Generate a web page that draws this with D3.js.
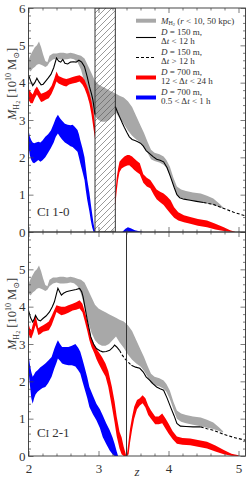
<!DOCTYPE html>
<html><head><meta charset="utf-8">
<script src="https://cdn.jsdelivr.net/npm/d3@7"></script>
<style>
html,body{margin:0;padding:0;background:#fff;}
svg{display:block;font-family:"Liberation Serif","DejaVu Serif",serif;}
</style></head><body>
<svg id="c" width="249" height="479"></svg>
<script>
// ---------------- DATA ----------------
const xDomain = [2, 5.1];
const yDomain = [0, 6];
const xMajorTicks = [2, 3, 4, 5];
const yTicksTop = [0, 1, 2, 3, 4, 5, 6];
const yTicksBottom = [0, 1, 2, 3, 4, 5];
const panelLabels = [["C", "I", " 1-0"], ["C", "I", " 2-1"]];
const hatchRangeTop = [2.95, 3.24];
const vlineBottom = 3.40;

// gray band: [z, low, high]  (r<10 kpc .. r<50 kpc)
const grayBand = [
[2.00,4.35,4.60],[2.03,4.30,4.75],[2.06,4.38,4.85],[2.09,4.42,4.95],[2.12,4.48,5.00],
[2.15,4.50,5.10],[2.18,4.48,4.95],[2.21,4.45,4.75],[2.24,4.42,4.58],[2.27,4.45,4.55],
[2.30,4.55,4.72],[2.35,4.62,4.78],[2.40,4.65,4.78],[2.45,4.62,4.80],[2.50,4.62,4.80],
[2.55,4.63,4.78],[2.60,4.65,4.80],[2.65,4.63,4.78],[2.70,4.55,4.75],[2.75,4.35,4.72],
[2.80,4.00,4.65],[2.85,3.60,4.45],[2.90,3.30,4.25],[2.95,3.10,4.05],[3.00,3.00,3.95],
[3.05,2.95,3.90],[3.10,2.95,3.85],[3.15,3.00,3.80],[3.20,3.10,3.75],[3.25,3.20,3.70],
[3.30,3.05,3.65],[3.36,2.90,3.60],[3.42,2.72,3.50],[3.48,2.58,3.35],[3.54,2.48,3.10],
[3.60,2.40,2.85],[3.65,2.28,2.65],[3.70,2.12,2.42],[3.75,1.95,2.20],[3.80,1.90,2.12],
[3.87,1.86,2.08],[3.93,1.80,2.02],[3.97,1.72,1.93],[4.02,1.52,1.75],[4.07,1.25,1.45],
[4.12,1.00,1.22],[4.18,0.92,1.14],[4.25,0.88,1.10],[4.35,0.84,1.06],[4.46,0.80,1.03],
[4.55,0.76,0.97],[4.64,0.72,0.90],[4.72,0.67,0.77],[4.78,0.63,0.66]
];

// D=150 m line, top panel (CI 1-0); null = gap
const blackTop = [
[2.00,4.21],[2.03,4.05],[2.06,3.92],[2.09,4.00],[2.12,4.12],[2.15,4.02],[2.18,3.94],
[2.21,3.96],[2.24,4.03],[2.28,4.12],[2.32,4.22],[2.36,4.40],[2.40,4.66],[2.43,4.58],
[2.46,4.55],[2.49,4.62],[2.52,4.52],[2.56,4.50],[2.60,4.55],[2.64,4.56],[2.68,4.55],
[2.72,4.60],[2.76,4.55],[2.80,4.43],[2.84,4.15],[2.87,3.90],[2.90,3.70],[2.92,3.54],
[2.95,3.15],[3.10,null],
[3.24,3.36],[3.27,3.22],[3.30,3.09],[3.34,2.92],[3.37,2.80],[3.41,2.65],[3.44,2.55],
[3.48,2.48],[3.52,2.45],[3.56,2.42],[3.60,2.38],[3.64,2.30],[3.68,2.18],[3.73,2.10],
[3.78,2.02],[3.83,1.95],[3.88,1.92],[3.93,1.88],[3.98,1.72],[4.03,1.47],[4.08,1.20],
[4.12,1.00],[4.16,0.92],[4.22,0.88],[4.31,0.85],[4.40,0.82],[4.50,0.79],[4.64,0.74],
[4.79,0.63],[4.93,0.53],[5.10,0.43]
];
const dashedTop = [[4.50, 5.10]];

// D=700 m, 12<dt<24 h, top panel: [z, low, high]
const redTop = [
[2.00,3.54,3.85],[2.03,3.45,3.75],[2.06,3.45,3.68],[2.09,3.58,3.82],[2.12,3.68,3.90],
[2.15,3.58,3.80],[2.18,3.48,3.70],[2.21,3.50,3.72],[2.25,3.55,3.76],[2.29,3.58,3.81],
[2.33,3.70,3.92],[2.37,3.88,4.12],[2.40,4.03,4.30],[2.43,3.98,4.18],[2.46,3.95,4.15],
[2.50,3.92,4.12],[2.54,3.90,4.10],[2.58,3.95,4.12],[2.63,3.98,4.15],[2.68,4.00,4.18],
[2.73,4.03,4.20],[2.77,3.95,4.15],[2.80,3.85,4.08],[2.84,3.65,3.90],[2.87,3.45,3.72],
[2.90,3.15,3.50],[2.93,2.75,3.20],[2.95,2.50,2.85],[3.10,null,null],
[3.24,0.70,1.00],[3.26,1.10,1.45],[3.28,1.40,1.70],[3.30,1.60,1.88],[3.33,1.70,1.95],
[3.37,1.75,2.02],[3.41,1.78,2.06],[3.44,1.79,2.06],[3.48,1.72,2.02],[3.51,1.66,1.97],
[3.55,1.60,1.90],[3.59,1.55,1.84],[3.64,1.32,1.55],[3.69,1.22,1.45],[3.74,1.17,1.39],
[3.79,1.00,1.25],[3.83,0.88,1.14],[3.88,0.80,1.08],[3.93,0.72,1.03],[3.98,0.60,0.95],
[4.03,0.49,0.85],[4.08,0.38,0.66],[4.14,0.31,0.53],[4.22,0.26,0.45],[4.31,0.22,0.40],
[4.42,0.17,0.35],[4.55,0.13,0.31],[4.67,0.07,0.22],[4.79,0.03,0.13],[4.88,0.01,0.05],
[4.95,0.00,0.01]
];

// D=700 m, 0.5<dt<1 h, top panel
const blueTop = [
[2.00,2.28,2.73],[2.02,2.05,2.55],[2.04,1.93,2.46],[2.06,1.86,2.40],[2.08,1.84,2.38],
[2.11,1.88,2.40],[2.14,1.93,2.42],[2.17,1.88,2.40],[2.20,1.92,2.45],[2.24,2.00,2.55],
[2.28,2.12,2.62],[2.32,2.25,2.72],[2.36,2.40,2.90],[2.39,2.55,3.05],[2.42,2.64,3.14],
[2.45,2.55,3.05],[2.48,2.48,2.98],[2.52,2.40,2.90],[2.56,2.35,2.87],[2.60,2.30,2.86],
[2.63,2.28,2.87],[2.66,2.22,2.82],[2.70,2.15,2.73],[2.72,2.00,2.62],[2.74,1.84,2.46],
[2.77,1.62,2.25],[2.80,1.39,2.00],[2.82,1.10,1.70],[2.84,0.85,1.39],[2.87,0.55,1.05],
[2.89,0.31,0.76],[2.91,0.12,0.48],[2.93,0.00,0.22],[2.95,0.00,0.02],[3.10,null,null],
[3.34,0.00,0.00],[3.38,0.00,0.08],[3.42,0.00,0.13],[3.46,0.00,0.10],[3.52,0.00,0.05],
[3.58,0.00,0.02],[3.64,0.00,0.00]
];

// bottom panel (CI 2-1)
const blackBottom = [
[2.00,3.90],[2.03,3.70],[2.06,3.59],[2.08,3.66],[2.10,3.77],[2.12,3.70],[2.14,3.64],
[2.17,3.62],[2.21,3.69],[2.25,3.75],[2.30,3.86],[2.34,4.00],[2.37,4.13],[2.40,4.35],
[2.42,4.49],[2.45,4.38],[2.47,4.31],[2.50,4.36],[2.54,4.40],[2.58,4.42],[2.63,4.44],
[2.68,4.46],[2.73,4.49],[2.76,4.40],[2.78,4.26],[2.81,3.95],[2.84,3.64],[2.87,3.38],
[2.89,3.19],[2.93,3.00],[2.97,2.88],[3.02,2.82],[3.06,2.79],[3.11,2.80],[3.16,2.83],
[3.20,2.90],[3.23,2.97],[3.26,2.92],[3.30,2.83],[3.34,2.70],[3.38,2.60],[3.42,2.52],
[3.47,2.43],[3.53,2.38],[3.59,2.35],[3.64,2.25],[3.68,2.12],[3.73,2.03],[3.78,1.93],
[3.83,1.85],[3.88,1.80],[3.93,1.76],[3.98,1.55],[4.03,1.31],[4.08,1.08],[4.12,0.87],
[4.17,0.80],[4.25,0.79],[4.35,0.78],[4.46,0.78],[4.55,0.73],[4.64,0.69],[4.79,0.58],
[4.93,0.50],[5.10,0.42]
];
const dashedBottom = [[3.30, 3.47], [4.48, 5.10]];

const redBottom = [
[2.00,3.28,3.55],[2.02,3.18,3.42],[2.04,3.15,3.37],[2.07,3.30,3.58],[2.10,3.50,3.77],
[2.12,3.38,3.60],[2.14,3.24,3.42],[2.17,3.27,3.46],[2.21,3.33,3.50],[2.25,3.35,3.55],
[2.29,3.37,3.60],[2.33,3.50,3.75],[2.37,3.70,3.92],[2.40,3.86,4.04],[2.43,3.82,4.02],
[2.47,3.77,4.00],[2.52,3.80,4.00],[2.57,3.84,4.04],[2.63,3.90,4.08],[2.68,3.92,4.12],
[2.73,3.95,4.17],[2.77,3.85,4.08],[2.80,3.64,3.90],[2.84,3.35,3.62],[2.87,3.10,3.37],
[2.90,2.92,3.15],[2.94,2.75,2.97],[2.97,2.60,2.87],[3.00,2.48,2.79],[3.05,2.30,2.65],
[3.10,2.13,2.48],[3.14,1.85,2.28],[3.19,1.33,1.86],[3.23,0.90,1.45],[3.26,0.53,1.06],
[3.30,0.20,0.65],[3.33,0.05,0.50],[3.36,0.00,0.25],[3.39,0.00,0.05],[3.40,0.00,0.02],
[3.41,0.00,0.10],[3.43,0.05,0.40],[3.45,0.35,0.72],[3.48,0.70,1.05],[3.51,1.00,1.32],
[3.55,1.25,1.50],[3.59,1.35,1.55],[3.63,1.41,1.63],[3.67,1.30,1.55],[3.71,1.10,1.35],
[3.75,1.00,1.22],[3.81,0.85,1.06],[3.86,0.85,1.06],[3.91,0.88,1.14],[3.96,0.72,1.00],
[4.00,0.60,0.87],[4.06,0.45,0.66],[4.12,0.33,0.52],[4.20,0.30,0.48],[4.31,0.29,0.47],
[4.42,0.25,0.43],[4.55,0.20,0.38],[4.67,0.12,0.28],[4.79,0.05,0.16],[4.90,0.01,0.06],
[5.00,0.00,0.02]
];

const blueBottom = [
[2.00,2.30,2.72],[2.02,1.90,2.45],[2.04,1.55,2.25],[2.06,1.40,2.12],[2.08,1.55,2.18],
[2.10,1.65,2.25],[2.13,1.72,2.30],[2.17,1.78,2.38],[2.20,1.82,2.42],[2.24,1.85,2.48],
[2.28,1.95,2.55],[2.33,2.12,2.65],[2.37,2.35,2.88],[2.40,2.50,3.02],[2.42,2.61,3.10],
[2.45,2.55,3.00],[2.48,2.48,2.92],[2.52,2.45,2.92],[2.57,2.43,2.92],[2.62,2.43,2.95],
[2.67,2.40,3.00],[2.71,2.30,2.90],[2.74,2.21,2.79],[2.77,2.00,2.60],[2.80,1.81,2.39],
[2.84,1.55,2.10],[2.87,1.31,1.85],[2.92,1.12,1.62],[2.97,0.96,1.40],[3.02,0.75,1.25],
[3.06,0.51,1.09],[3.11,0.32,0.88],[3.16,0.15,0.69],[3.20,0.05,0.50],[3.23,0.00,0.33],
[3.26,0.00,0.12],[3.28,0.00,0.00]
];

// legend
const legendEntries = [
  {type:"band", color:"#a8a8a8", lines:["MH2"]},
  {type:"line", dash:false, lines:["D = 150 m,", "Δt < 12 h"]},
  {type:"line", dash:true,  lines:["D = 150 m,", "Δt > 12 h"]},
  {type:"band", color:"#ff0000", lines:["D = 700 m,", "12 < Δt < 24 h"]},
  {type:"band", color:"#0000ff", lines:["D = 700 m,", "0.5 < Δt < 1 h"]}
];

// ---------------- DRAWING ----------------
const svg = d3.select("#c");
const L = 28.5, R = 245.5;
const x = d3.scaleLinear().domain(xDomain).range([L, R]);
const panels = [
  {top: 8, bottom: 232, gray: grayBand, black: blackTop, dashed: dashedTop, red: redTop, blue: blueTop, yt: yTicksTop, label: panelLabels[0], labY: 212, hatch: hatchRangeTop},
  {top: 232, bottom: 456, gray: grayBand, black: blackBottom, dashed: dashedBottom, red: redBottom, blue: blueBottom, yt: yTicksBottom, label: panelLabels[1], labY: 433, vline: vlineBottom}
];

const defs = svg.append("defs");
const pat = defs.append("pattern").attr("id","hatch").attr("patternUnits","userSpaceOnUse")
  .attr("width",6).attr("height",6);
pat.append("path").attr("d","M-1,1 l2,-2 M0,6 l6,-6 M5,7 l2,-2")
  .attr("stroke","#555").attr("stroke-width",0.6);

const minorX = d3.range(2, 5.1001, 0.2).map(v => +v.toFixed(2));
const minorY = d3.range(0, 6.0001, 0.2).map(v => +v.toFixed(2));

panels.forEach((p, i) => {
  const y = d3.scaleLinear().domain(yDomain).range([p.bottom, p.top]);
  const cid = "clip" + i;
  defs.append("clipPath").attr("id", cid).append("rect")
    .attr("x", L).attr("y", p.top).attr("width", R - L).attr("height", p.bottom - p.top);
  const g = svg.append("g").attr("clip-path", `url(#${cid})`);

  const area = d3.area().defined(d => d[1] != null)
    .x(d => x(d[0])).y0(d => y(d[1])).y1(d => y(d[2])).curve(d3.curveLinear);

  g.append("path").attr("d", area(p.gray)).attr("fill", "#a8a8a8");
  g.append("path").attr("d", area(p.red)).attr("fill", "#ff0000");
  g.append("path").attr("d", area(p.blue)).attr("fill", "#0000ff");

  // black line, split solid / dashed
  const isDashed = z => p.dashed.some(r => z > r[0] && z < r[1]);
  const pts = p.black;
  let segs = [];
  for (let k = 0; k < pts.length - 1; k++) {
    const a = pts[k], b = pts[k + 1];
    if (a[1] == null || b[1] == null) continue;
    const st = isDashed((a[0] + b[0]) / 2);
    const last = segs[segs.length - 1];
    if (last && last.st === st && last.pts[last.pts.length - 1] === a) last.pts.push(b);
    else segs.push({st, pts: [a, b]});
  }
  const line = d3.line().x(d => x(d[0])).y(d => y(d[1]));
  segs.forEach(s => {
    g.append("path").attr("d", line(s.pts)).attr("fill", "none")
      .attr("stroke", "#000").attr("stroke-width", 1.1)
      .attr("stroke-dasharray", s.st ? "3,2" : null);
  });

  if (p.hatch) {
    g.append("rect").attr("x", x(p.hatch[0])).attr("y", p.top)
      .attr("width", x(p.hatch[1]) - x(p.hatch[0])).attr("height", p.bottom - p.top)
      .attr("fill", "url(#hatch)").attr("stroke", "#222").attr("stroke-width", 0.9);
  }
  if (p.vline != null) {
    g.append("line").attr("x1", x(p.vline)).attr("x2", x(p.vline))
      .attr("y1", p.top).attr("y2", p.bottom).attr("stroke", "#333").attr("stroke-width", 1);
  }

  // axes (inward ticks)
  const mk = (axis, tr, cls) => {
    const a = svg.append("g").attr("transform", tr).call(axis);
    a.select(".domain").remove();
    a.selectAll("line").attr("stroke", "#444").attr("stroke-width", 0.7);
    a.selectAll("text").attr("font-family", "Liberation Serif, serif").attr("font-size", 13).attr("fill", "#333");
    return a;
  };
  // bottom
  const bx = mk(d3.axisBottom(x).tickValues(xMajorTicks).tickSize(-5).tickPadding(8).tickFormat(i === 1 ? d3.format("d") : ""), `translate(0,${p.bottom})`);
  mk(d3.axisBottom(x).tickValues(minorX.filter(v => !xMajorTicks.includes(v))).tickSize(-2.5).tickFormat(""), `translate(0,${p.bottom})`);
  mk(d3.axisTop(x).tickValues(xMajorTicks).tickSize(-5).tickFormat(""), `translate(0,${p.top})`);
  mk(d3.axisTop(x).tickValues(minorX.filter(v => !xMajorTicks.includes(v))).tickSize(-2.5).tickFormat(""), `translate(0,${p.top})`);
  mk(d3.axisLeft(y).tickValues(p.yt).tickSize(-5).tickPadding(3).tickFormat(d3.format("d")), `translate(${L},0)`);
  mk(d3.axisLeft(y).tickValues(minorY.filter(v => v % 1 !== 0)).tickSize(-2.5).tickFormat(""), `translate(${L},0)`);
  mk(d3.axisRight(y).tickValues(d3.range(0, 7)).tickSize(-5).tickFormat(""), `translate(${R},0)`);
  mk(d3.axisRight(y).tickValues(minorY.filter(v => v % 1 !== 0)).tickSize(-2.5).tickFormat(""), `translate(${R},0)`);

  // frame
  svg.append("rect").attr("x", L).attr("y", p.top).attr("width", R - L).attr("height", p.bottom - p.top)
    .attr("fill", "none").attr("stroke", "#333").attr("stroke-width", 0.9);

  // panel label
  const t = svg.append("text").attr("x", 37).attr("y", p.labY + 4).attr("font-size", 13).attr("fill", "#333");
  t.append("tspan").text(p.label[0]);
  t.append("tspan").attr("font-size", 10).text(p.label[1]);
  t.append("tspan").text(p.label[2]);

  // y label
  const cy = i === 0 ? 84 : 314;
  const yl = svg.append("text").attr("transform", `translate(16,${cy}) rotate(-90)`)
    .attr("text-anchor", "middle").attr("font-size", 12.5).attr("fill", "#333");
  yl.append("tspan").attr("font-style", "italic").text("M");
  yl.append("tspan").attr("font-size", 8).attr("dy", 2.5).text("H");
  yl.append("tspan").attr("font-size", 6).attr("dy", 1.5).text("2");
  yl.append("tspan").attr("dy", -4).text(" [10");
  yl.append("tspan").attr("font-size", 8).attr("dy", -5).text("10");
  yl.append("tspan").attr("dy", 5).text(" M");
  yl.append("tspan").attr("font-size", 8).attr("dy", 2.5).text("⊙");
  yl.append("tspan").attr("dy", -2.5).text("]");
});

// x label
svg.append("text").attr("x", 137).attr("y", 476).attr("font-size", 13).attr("font-style", "italic")
  .attr("fill", "#333").attr("text-anchor", "middle").text("z");

// legend
const lg = svg.append("g");
const swX0 = 136, swX1 = 156, txX = 161;
const entryY = [20.7, 37.5, 57.5, 77.5, 97.5];
legendEntries.forEach((e, k) => {
  const yy = entryY[k];
  if (e.type === "band") {
    lg.append("rect").attr("x", swX0).attr("y", yy - 2).attr("width", swX1 - swX0).attr("height", 4).attr("fill", e.color);
  } else {
    lg.append("line").attr("x1", swX0).attr("x2", swX1).attr("y1", yy).attr("y2", yy)
      .attr("stroke", "#000").attr("stroke-width", 1.1).attr("stroke-dasharray", e.dash ? "3,2" : null);
  }
  if (k === 0) {
    const t = lg.append("text").attr("x", txX).attr("y", yy + 3).attr("font-size", 9).attr("fill", "#333");
    t.append("tspan").attr("font-style", "italic").text("M");
    t.append("tspan").attr("font-size", 6).attr("dy", 1.5).text("H");
    t.append("tspan").attr("font-size", 4.5).attr("dy", 1).text("2");
    t.append("tspan").attr("dy", -2.5).text(" (");
    t.append("tspan").attr("font-style", "italic").text("r");
    t.append("tspan").text(" < 10, 50 kpc)");
  } else {
    e.lines.forEach((ln, j) => {
      const t = lg.append("text").attr("x", txX).attr("y", yy - 5.5 + j * 9 + 3).attr("font-size", 9).attr("fill", "#333");
      // italicise D and t
      const parts = ln.split(/(D|t)/);
      parts.forEach(pt => {
        if (pt === "") return;
        const s = t.append("tspan").text(pt);
        if (pt === "D" || pt === "t") s.attr("font-style", "italic");
      });
    });
  }
});
</script>
</body></html>
